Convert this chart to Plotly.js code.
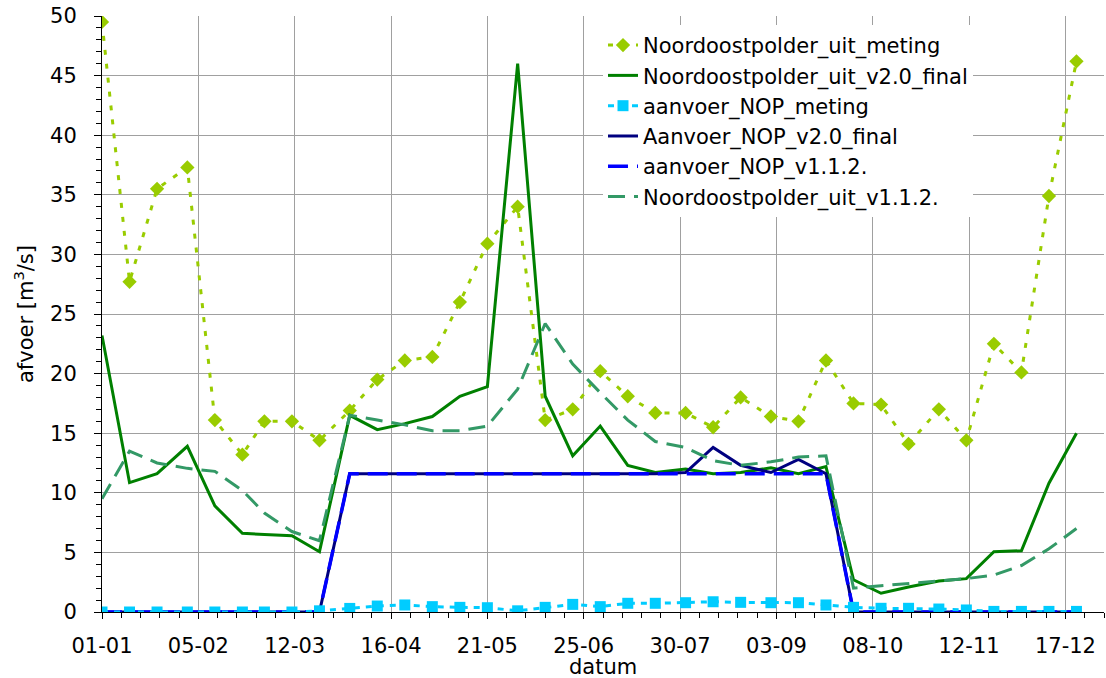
<!DOCTYPE html>
<html>
<head>
<meta charset="utf-8">
<script src="https://cdn.plot.ly/plotly-3.0.1.min.js"></script>
<style>html,body{margin:0;padding:0;background:#fff;}#chart{width:1106px;height:678px;}</style>
</head>
<body>
<div id="chart"></div>
<script>
const dates = ['2019-01-01','2019-01-11','2019-01-21','2019-02-01','2019-02-11','2019-02-21',
  '2019-03-01','2019-03-11','2019-03-21','2019-04-01','2019-04-11','2019-04-21',
  '2019-05-01','2019-05-11','2019-05-21','2019-06-01','2019-06-11','2019-06-21',
  '2019-07-01','2019-07-11','2019-07-21','2019-08-01','2019-08-11','2019-08-21',
  '2019-09-01','2019-09-11','2019-09-21','2019-10-01','2019-10-11','2019-10-21',
  '2019-11-01','2019-11-11','2019-11-21','2019-12-01','2019-12-11','2019-12-21'];

const nopUitMeting = [49.5,27.7,35.5,37.3,16.1,13.2,16.0,16.0,14.4,16.9,19.5,21.1,
  21.4,26.0,30.9,34.0,16.1,17.0,20.2,18.1,16.7,16.7,15.5,18.0,
  16.4,16.0,21.1,17.5,17.4,14.1,17.0,14.4,22.5,20.1,34.9,46.2];

const nopUitV20 = [23.2,10.85,11.6,13.9,8.9,6.6,6.5,6.4,5.06,16.5,15.3,15.8,
  16.4,18.1,18.9,46.0,18.1,13.1,15.6,12.3,11.7,12.0,11.6,11.7,
  12.1,11.6,12.2,2.7,1.57,2.1,2.6,2.8,5.06,5.14,10.8,15.0];

const aanvoerMeting = [0,0,0,0,0,0,0,0,0.1,0.3,0.5,0.59,
  0.45,0.39,0.36,0.1,0.39,0.64,0.45,0.73,0.73,0.78,0.86,0.81,
  0.78,0.78,0.59,0.39,0.31,0.31,0.25,0.17,0.05,0.05,0.05,0.05];

const aanvoerV20 = [0,0,0,0,0,0,0,0,0,11.6,11.6,11.6,
  11.6,11.6,11.6,11.6,11.6,11.6,11.6,11.6,11.6,11.7,13.8,12.3,
  11.7,12.8,11.6,0,0,0,0,0,0,0,0,0];

const aanvoerV112 = [0,0,0,0,0,0,0,0,0,11.6,11.6,11.6,
  11.6,11.6,11.6,11.6,11.6,11.6,11.6,11.6,11.6,11.6,11.6,11.6,
  11.6,11.6,11.6,0,0,0,0,0,0,0,0,0];

const nopUitV112 = [9.5,13.5,12.5,12.05,11.8,10.2,8.3,6.75,5.98,16.5,16.1,15.7,
  15.2,15.2,15.6,18.7,24.2,20.8,18.4,16.1,14.3,13.8,12.7,12.3,
  12.6,13.0,13.1,2.0,2.2,2.4,2.6,2.8,3.1,3.9,5.3,7.0];

const names = ['Noordoostpolder_uit_meting','Noordoostpolder_uit_v2.0_final','aanvoer_NOP_meting',
  'Aanvoer_NOP_v2.0_final','aanvoer_NOP_v1.1.2.','Noordoostpolder_uit_v1.1.2.'];
const xTitle = 'datum';
const yTitle = 'afvoer [m<sup>3</sup>/s]';

const FONT = 'DejaVu Sans, Verdana, sans-serif';
const DAY = 86400000;

const traces = [
  {x: dates, y: nopUitMeting, name: names[0], legendrank: 1, mode: 'lines+markers',
   line: {color: '#99cc00', width: 3, dash: '5px,9px'},
   marker: {symbol: 'diamond', size: 11, color: '#99cc00'}},
  {x: dates, y: nopUitV20, name: names[1], legendrank: 2, mode: 'lines',
   line: {color: '#008000', width: 3}},
  {x: dates, y: aanvoerV20, name: names[3], legendrank: 4, mode: 'lines',
   line: {color: '#000080', width: 3}},
  {x: dates, y: aanvoerV112, name: names[4], legendrank: 5, mode: 'lines',
   line: {color: '#0000ff', width: 3.5, dash: '20px,9px'}},
  {x: dates, y: nopUitV112, name: names[5], legendrank: 6, mode: 'lines',
   line: {color: '#339966', width: 3, dash: '17px,9px'}},
  {x: dates, y: aanvoerMeting, name: names[2], legendrank: 3, mode: 'lines+markers',
   line: {color: '#00ccff', width: 3, dash: '6px,6px'},
   marker: {symbol: 'square', size: 11, color: '#00ccff'}}
];

const xr = ['2019-01-01', '2019-12-31'];
const layout = {
  width: 1106, height: 678,
  margin: {l: 102, r: 2, t: 16, b: 66},
  paper_bgcolor: '#fff', plot_bgcolor: '#fff',
  font: {family: FONT, size: 21, color: '#000'},
  showlegend: true,
  legend: {x: 0.5, xanchor: 'left', y: 0.985, yanchor: 'top', bgcolor: '#fff', borderwidth: 0,
    font: {family: FONT, size: 21, color: '#000'}, tracegroupgap: 0},
  xaxis: {type: 'date', range: xr, tick0: '2019-01-01', dtick: 35 * DAY, tickformat: '%d-%m',
    showgrid: true, gridcolor: '#a0a0a0', gridwidth: 1, zeroline: false,
    showline: true, linecolor: '#000', linewidth: 1,
    ticks: 'outside', ticklen: 6, tickcolor: '#000', ticklabelstandoff: 9,
    minor: {tick0: '2019-01-01', dtick: 7 * DAY, ticks: 'outside', ticklen: 5, tickcolor: '#000', showgrid: false},
    tickfont: {family: FONT, size: 21, color: '#000'}},
  xaxis2: {type: 'date', range: xr, overlaying: 'x', anchor: 'y', side: 'bottom',
    tick0: '2019-01-01', dtick: 35 * DAY, ticks: 'inside', ticklen: 5, tickcolor: '#000',
    showticklabels: false, showgrid: false, zeroline: false, showline: false},
  yaxis: {range: [0, 50], dtick: 5, showgrid: true, gridcolor: '#a0a0a0', gridwidth: 1, zeroline: false,
    showline: true, linecolor: '#000', linewidth: 1,
    ticks: 'outside', ticklen: 7, tickcolor: '#000', ticklabelstandoff: 13,
    minor: {dtick: 1, ticks: 'outside', ticklen: 5, tickcolor: '#000', showgrid: false},
    tickfont: {family: FONT, size: 21, color: '#000'},
    title: {text: yTitle, standoff: 10, font: {family: FONT, size: 21, color: '#000'}}},
  yaxis2: {range: [0, 50], overlaying: 'y', anchor: 'x', side: 'left', dtick: 5,
    ticks: 'inside', ticklen: 8, tickcolor: '#000', showticklabels: false,
    showgrid: false, zeroline: false, showline: false},
  yaxis3: {range: [0, 50], overlaying: 'y', anchor: 'x', side: 'right',
    ticks: '', showticklabels: false, showgrid: false, zeroline: false,
    showline: true, linecolor: '#a0a0a0', linewidth: 1},
  annotations: [
    {text: xTitle, xref: 'paper', yref: 'paper', x: 0.5, xanchor: 'center',
     y: -0.116, yanchor: 'bottom', showarrow: false,
     font: {family: FONT, size: 21, color: '#000'}}
  ]
};

Plotly.newPlot('chart', traces, layout, {displayModeBar: false, staticPlot: true});
</script>
</body>
</html>
